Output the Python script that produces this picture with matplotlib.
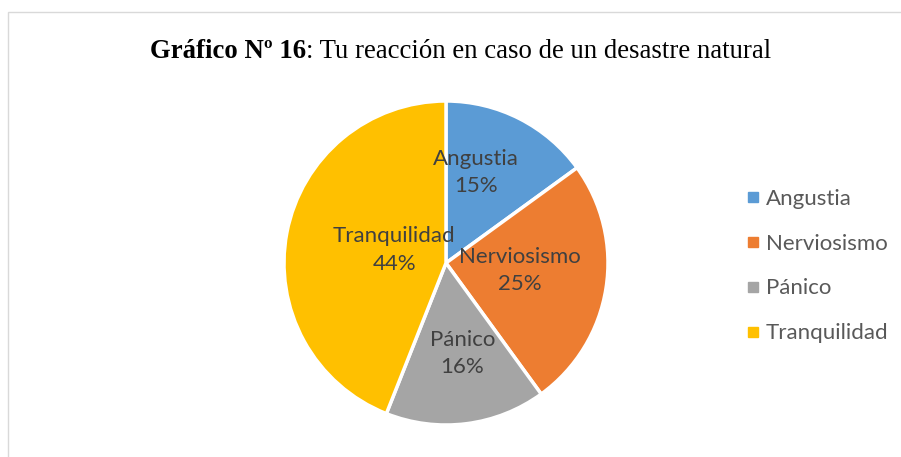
import matplotlib.pyplot as plt
from matplotlib.lines import Line2D
from matplotlib.patches import Rectangle

# ---- DATA ----
categories = ['Angustia', 'Nerviosismo', 'Pánico', 'Tranquilidad']
shares = [15, 25, 16, 44]
colors = ['#5B9BD5', '#ED7D31', '#A5A5A5', '#FFC000']
title_bold = 'Gráfico Nº 16'
title_rest = ': Tu reacción en caso de un desastre natural'

# label anchor points inside the pie (radius units)
label_pos = [(0.185, 0.56), (0.457, -0.045), (0.10, -0.56), (-0.32, 0.08)]

W, H = 901, 457
fig = plt.figure(figsize=(W / 100, H / 100), dpi=100)

# light frame of the chart area
fig.patches.append(Rectangle((7.5 / W, -0.5), 2, (H - 11.5) / H + 0.5,
                             transform=fig.transFigure, fill=False,
                             edgecolor='#D9D9D9', linewidth=1))

# ---- PIE ----
cx, cy, r = 446, 263, 162
ax = fig.add_axes([(cx - r) / W, (H - cy - r) / H, 2 * r / W, 2 * r / H])
wedges, _ = ax.pie(shares, colors=colors, startangle=90, counterclock=False,
                   radius=1, wedgeprops=dict(edgecolor='white', linewidth=2.5))
ax.set_xlim(-1, 1)
ax.set_ylim(-1, 1)
ax.set_aspect('equal')
ax.axis('off')

for name, val, (x, y) in zip(categories, shares, label_pos):
    ax.text(x, y, f'{name}\n{val}%', ha='center', va='center',
            fontsize=16, family='Lato', color='#404040', linespacing=1.45)

# ---- LEGEND ----
handles = [Line2D([], [], marker='s', linestyle='none', markersize=6.5,
                  markerfacecolor=c, markeredgecolor=c) for c in colors]
fig.legend(handles, categories, loc='center left',
           bbox_to_anchor=(747 / W, (H - 266) / H), frameon=False,
           prop={'family': 'Lato', 'size': 16}, labelcolor='#595959',
           handlelength=0.55, handletextpad=0.3, labelspacing=1.12,
           borderpad=0, borderaxespad=0)

# ---- TITLE (bold part + regular part) ----
t1 = fig.text(0, (H - 58) / H, title_bold, family='Liberation Serif',
              fontsize=19.3, fontweight='bold', va='baseline', ha='left')
t2 = fig.text(0, (H - 58) / H, title_rest, family='Liberation Serif',
              fontsize=19.3, va='baseline', ha='left')
fig.canvas.draw()
w1 = t1.get_window_extent().width
w2 = t2.get_window_extent().width
x0 = 460.5 - (w1 + w2) / 2
t1.set_x(x0 / W)
t2.set_x((x0 + w1) / W)

plt.savefig('out.png', dpi=100)
